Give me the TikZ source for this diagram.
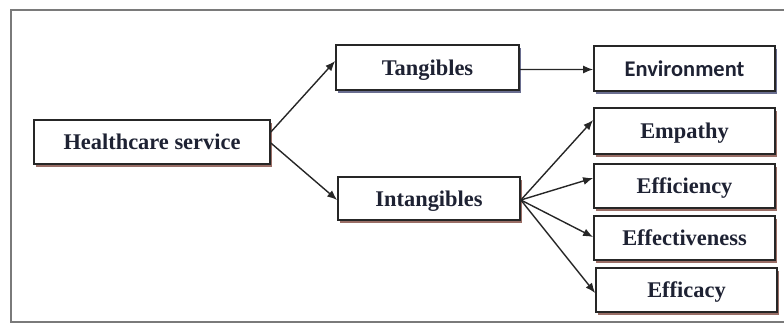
\documentclass[tikz,border=0pt]{standalone}
\usepackage{fontspec}
\setmainfont{Liberation Serif}
\newfontfamily\envfont{Carlito}
\usetikzlibrary{arrows.meta,shadows}
\definecolor{inkc}{HTML}{1E2233}
\definecolor{shadebrown}{HTML}{9A6E66}
\definecolor{shadeblue}{HTML}{6A6E90}
\definecolor{framegray}{HTML}{7A7A7A}
\tikzset{
  box/.style={draw=black!85, line width=1.7bp, fill=white, inner sep=0pt,
    text height=15bp, text depth=0bp,
    text=inkc, font=\fontsize{22.5}{26}\selectfont\bfseries,
    drop shadow={shadow xshift=2bp, shadow yshift=-3bp, fill=shadebrown, opacity=1}},
  bluebox/.style={box, drop shadow={shadow xshift=2bp, shadow yshift=-3bp, fill=shadeblue, opacity=1}},
  link/.style={draw=black!85, line width=1.4bp, -{Latex[length=10bp,width=8bp]}}
}
\begin{document}
\begin{tikzpicture}[x=1bp,y=-1bp]
\useasboundingbox (0,0) rectangle (784,324);
% outer frame
\draw[framegray, line width=2bp] (11,10) rectangle (800,322);
% boxes
\node[box, minimum width=236bp, minimum height=44bp] (hs) at (152,142) {Healthcare service};
\node[bluebox, minimum width=183bp, minimum height=45bp] (tan) at (427.5,67.5) {Tangibles};
\node[box, minimum width=182bp, minimum height=43bp] (int) at (429,198.5) {Intangibles};
\node[bluebox, minimum width=181bp, minimum height=45bp, font=\fontsize{22.5}{26}\selectfont\envfont\bfseries] (env) at (684.5,68.5) {Environment};
\node[box, minimum width=181bp, minimum height=46bp] (emp) at (684.5,131) {Empathy};
\node[box, minimum width=181bp, minimum height=44bp] (effi) at (684.5,186) {Efficiency};
\node[box, minimum width=181bp, minimum height=44bp] (effe) at (684.5,238) {Effectiveness};
\node[box, minimum width=181bp, minimum height=44bp] (effa) at (686.5,290) {Efficacy};
% connectors
\draw[link] ([yshift=10bp]hs.east) -- ([yshift=6.5bp]tan.west);
\draw[link] ([yshift=-1bp]hs.east) -- ([yshift=-1.5bp]int.west);
\draw[link] ([yshift=-2bp]tan.east) -- ([yshift=-1bp]env.west);
\draw[link] ([yshift=-1.5bp]int.east) -- ([yshift=11bp]emp.west);
\draw[link] ([yshift=-1.5bp]int.east) -- ([yshift=8bp]effi.west);
\draw[link] ([yshift=-1.5bp]int.east) -- ([yshift=1bp]effe.west);
\draw[link] ([yshift=-1.5bp]int.east) -- ([yshift=-3bp]effa.west);
\end{tikzpicture}
\end{document}
